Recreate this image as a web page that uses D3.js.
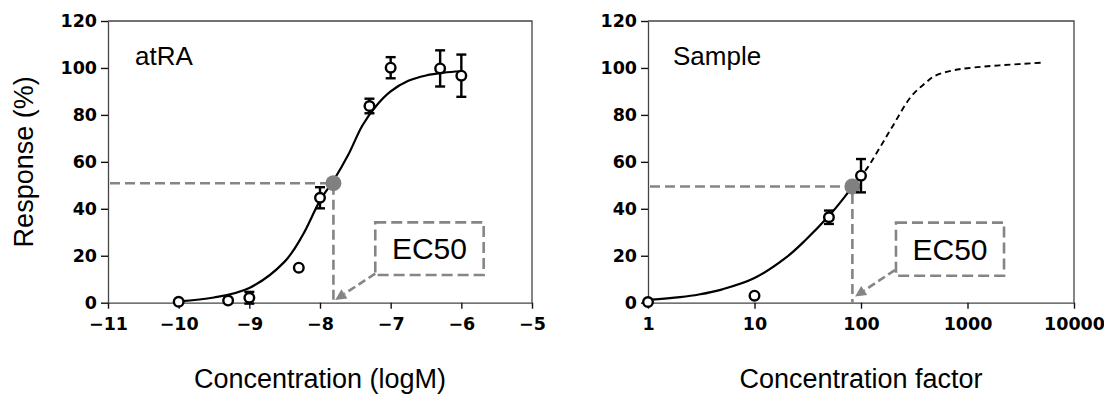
<!DOCTYPE html>
<html>
<head>
<meta charset="utf-8">
<script src="https://cdn.jsdelivr.net/npm/d3@7"></script>
<style>
  body { margin: 0; background: #fff; }
  svg { display: block; }
  .axis .domain { stroke: #444; stroke-width: 1.3; }
  .axis .tick line { stroke: #111; stroke-width: 1.4; }
  .axis .tick text { font-family: "DejaVu Sans", sans-serif; font-weight: bold; font-size: 17.5px; fill: #000; }
  .title { font-family: "Liberation Sans", Arial, sans-serif; fill: #000; }
</style>
</head>
<body>
<svg id="chart" width="1104" height="394"></svg>
<script>
// ---- atRA: response vs log molar concentration ----
const atraLogConc = [-10, -9.3, -9, -8.3, -8, -7.3, -7, -6.3, -6];
const atraResp    = [0.4, 0.9, 2.1, 14.9, 44.7, 83.8, 100.1, 99.8, 96.7];
const atraErr     = [0, 0, 2.5, 0, 4.5, 3.1, 4.5, 7.7, 9.0];
// fitted curve, sampled
const atraFitX = [-10, -9.5, -9, -8.5, -8.25, -8, -7.8, -7.6, -7.4, -7.2, -7, -6.75, -6.5, -6.25, -6];
const atraFitY = [0.6, 2.2, 6.3, 17.5, 28.5, 43.5, 52.5, 63, 75.5, 84, 90, 94.5, 96.8, 98, 98.6];
const atraEC50 = -7.81;
const atraEC50Resp = 50.9;

// ---- Sample: response vs concentration factor ----
const sampleConc = [1, 10, 50, 100];
const sampleResp = [0.3, 3.0, 36.4, 54.1];
const sampleErr  = [0, 0, 2.85, 7.1];
// fitted curve, sampled: measured range (solid) and extrapolation (dashed)
const sampleFitX = [1, 2, 3, 5, 10, 20, 30, 50, 70, 83];
const sampleFitY = [1.2, 2.4, 3.5, 5.7, 10.5, 19.4, 26.6, 37, 45, 49.5];
const sampleExtX = [83, 113, 150, 197, 295, 400, 493, 700, 1000, 2000, 5300];
const sampleExtY = [49.5, 57, 66, 75, 87.8, 93.5, 96.6, 98.8, 99.9, 101.1, 102.3];
const sampleEC50 = 83;
const sampleEC50Resp = 49.5;

// ---- axes ----
const yTicks = [0, 20, 40, 60, 80, 100, 120];
const atraXTicks = [-11, -10, -9, -8, -7, -6, -5];
const sampleXTicks = [1, 10, 100, 1000, 10000];

// ---- annotation boxes ("EC50" callouts), in data units ----
const atraBox = { x0: -7.218, x1: -5.684, y0: 11.8, y1: 34.2 };
const atraArrow = { from: [-7.218, 12.4], to: [-7.785, 1.2] };
const sampleBox = { x0: 213, x1: 2203, y0: 11.5, y1: 34.1 };
const sampleArrow = { from: [208, 13.9], to: [88, 2.6] };

const svg = d3.select("#chart");
const y = d3.scaleLinear().domain([0, 120]).range([302.7, 21]);
const GUIDE = "#858585";

function drawPanel(p) {
  const x = p.x;
  const g = svg.append("g");
  const [xa, xb] = x.range();

  // frame (top and right edges)
  g.append("path")
    .attr("d", `M${xa},${y(120)}H${xb}V${y(0)}`)
    .attr("fill", "none").attr("stroke", "#444").attr("stroke-width", 1.3);

  // axes
  g.append("g").attr("class", "axis")
    .attr("transform", `translate(0,${y(0)})`)
    .call(d3.axisBottom(x).tickValues(p.xTicks).tickFormat(p.xFormat)
      .tickSize(6).tickSizeOuter(0).tickPadding(9));
  g.append("g").attr("class", "axis")
    .attr("transform", `translate(${xa},0)`)
    .call(d3.axisLeft(y).tickValues(yTicks).tickFormat(d3.format("d"))
      .tickSize(7).tickSizeOuter(0).tickPadding(4));

  // EC50 guide lines
  const ex = x(p.ec50), ey = y(p.ec50Resp);
  g.append("path")
    .attr("d", `M${xa + 2},${ey}H${ex}V${y(0)}`)
    .attr("fill", "none").attr("stroke", GUIDE)
    .attr("stroke-width", 2.6).attr("stroke-dasharray", "10,5");

  // callout box
  const b = p.box;
  g.append("rect")
    .attr("x", x(b.x0)).attr("y", y(b.y1))
    .attr("width", x(b.x1) - x(b.x0)).attr("height", y(b.y0) - y(b.y1))
    .attr("fill", "none").attr("stroke", GUIDE)
    .attr("stroke-width", 2.6).attr("stroke-dasharray", "11,5");
  const fs = 30;
  g.append("text").attr("class", "title")
    .attr("x", (x(b.x0) + x(b.x1)) / 2)
    .attr("y", (y(b.y0) + y(b.y1)) / 2 + fs * 0.358)
    .attr("text-anchor", "middle").attr("font-size", fs)
    .text("EC50");

  // callout arrow
  const a = p.arrow;
  const fx = x(a.from[0]), fy = y(a.from[1]);
  const tx = x(a.to[0]), ty = y(a.to[1]);
  const ang = Math.atan2(ty - fy, tx - fx);
  const headLen = 11, headW = 5.5;
  const bx = tx - headLen * Math.cos(ang), by = ty - headLen * Math.sin(ang);
  g.append("line")
    .attr("x1", fx).attr("y1", fy).attr("x2", bx).attr("y2", by)
    .attr("stroke", GUIDE).attr("stroke-width", 2.6).attr("stroke-dasharray", "8,4");
  g.append("path")
    .attr("d", `M${tx},${ty}L${bx + headW * Math.sin(ang)},${by - headW * Math.cos(ang)}L${bx - headW * Math.sin(ang)},${by + headW * Math.cos(ang)}Z`)
    .attr("fill", GUIDE);

  // fitted curve
  const line = d3.line().x(d => x(d[0])).y(d => y(d[1])).curve(d3.curveCatmullRom);
  g.append("path").datum(d3.zip(p.fitX, p.fitY))
    .attr("d", line).attr("fill", "none").attr("stroke", "#000").attr("stroke-width", 2.2);
  if (p.extX) {
    g.append("path").datum(d3.zip(p.extX, p.extY))
      .attr("d", line).attr("fill", "none").attr("stroke", "#000")
      .attr("stroke-width", 1.9).attr("stroke-dasharray", "6,4");
  }

  // EC50 point
  g.append("circle").attr("cx", ex).attr("cy", ey).attr("r", 8).attr("fill", "#808080");

  // data: error bars then open circles
  const pts = d3.zip(p.xs, p.ys, p.errs);
  const eb = g.append("g").attr("stroke", "#000").attr("stroke-width", 2.4);
  pts.filter(d => d[2] > 0).forEach(([cx, v, e]) => {
    const px = x(cx), top = y(v + e), bot = y(v - e);
    eb.append("line").attr("x1", px).attr("x2", px).attr("y1", top).attr("y2", bot);
    eb.append("line").attr("x1", px - 5).attr("x2", px + 5).attr("y1", top).attr("y2", top);
    eb.append("line").attr("x1", px - 5).attr("x2", px + 5).attr("y1", bot).attr("y2", bot);
  });
  g.append("g").selectAll("circle").data(pts).join("circle")
    .attr("cx", d => x(d[0])).attr("cy", d => y(d[1])).attr("r", 4.8)
    .attr("fill", "#fff").attr("stroke", "#000").attr("stroke-width", 2.4);

  // panel label
  g.append("text").attr("class", "title")
    .attr("x", xa + p.labelDx).attr("y", y(120) + 44)
    .attr("font-size", 26).text(p.label);

  // x-axis title
  g.append("text").attr("class", "title")
    .attr("x", (xa + xb) / 2).attr("y", 388)
    .attr("text-anchor", "middle").attr("font-size", 27).text(p.xTitle);
}

drawPanel({
  x: d3.scaleLinear().domain([-11, -5]).range([108, 532]),
  xTicks: atraXTicks, xFormat: d3.format("d"),
  xs: atraLogConc, ys: atraResp, errs: atraErr,
  fitX: atraFitX, fitY: atraFitY,
  ec50: atraEC50, ec50Resp: atraEC50Resp,
  box: atraBox, arrow: atraArrow,
  label: "atRA", labelDx: 27,
  xTitle: "Concentration (logM)"
});

drawPanel({
  x: d3.scaleLog().domain([1, 10000]).range([648, 1074]),
  xTicks: sampleXTicks, xFormat: d3.format("d"),
  xs: sampleConc, ys: sampleResp, errs: sampleErr,
  fitX: sampleFitX, fitY: sampleFitY, extX: sampleExtX, extY: sampleExtY,
  ec50: sampleEC50, ec50Resp: sampleEC50Resp,
  box: sampleBox, arrow: sampleArrow,
  label: "Sample", labelDx: 25,
  xTitle: "Concentration factor"
});

// shared y-axis title
svg.append("text").attr("class", "title")
  .attr("transform", `translate(33,${(y(0) + y(120)) / 2}) rotate(-90)`)
  .attr("text-anchor", "middle").attr("font-size", 27)
  .text("Response (%)");
</script>
</body>
</html>
